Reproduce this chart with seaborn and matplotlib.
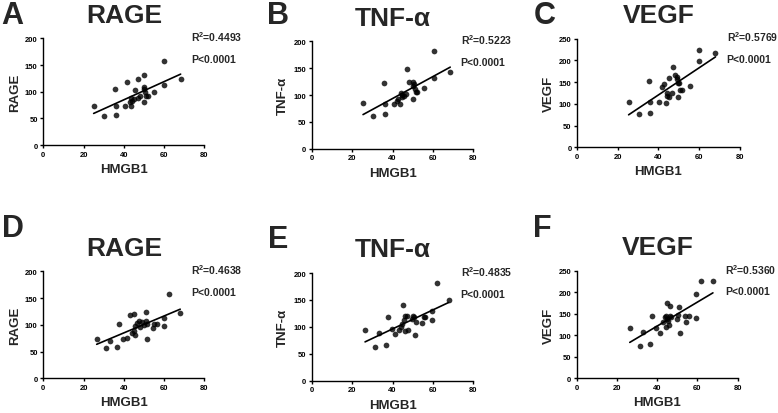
import numpy as np
import pandas as pd
import matplotlib
matplotlib.use("Agg")
import matplotlib.pyplot as plt
import seaborn as sns

# Values
hmgb1_a = [25.0, 30.3, 35.7, 36.2, 36.2, 40.5, 41.8, 43.4, 43.6, 43.9, 43.1, 44.8, 45.4, 47.1,
           46.9, 47.8, 49.8, 49.8, 50.1, 49.8, 50.7, 51.1, 52.2, 55.2, 60.0, 60.0, 68.2]
rage_a = [73.8, 54.4, 106, 73.8, 56, 73.8, 118, 73.8, 89, 83, 81, 86, 104, 124,
          89, 92.5, 131, 108, 105, 80, 99, 92.5, 92.5, 99, 158, 113, 124]

hmgb1_b = [25.4, 30.5, 35.9, 36.4, 36.4, 40.9, 42.0, 42.8, 43.7, 44.0, 44.6, 44.8, 45.6, 46.6,
           47.3, 48.3, 49.9, 50.2, 49.9, 50.8, 51.1, 51.4, 52.2, 55.7, 60.3, 60.3, 68.5]
tnf_b = [84.8, 61.3, 122, 84.2, 64.4, 84.2, 89, 92, 83, 103, 96.6, 100, 98.5, 101.5,
         149, 125, 124, 117, 92, 120, 111, 106.5, 106, 114, 182, 131, 143]

hmgb1_c = [25.3, 30.3, 35.5, 36.0, 36.0, 40.5, 41.8, 42.9, 45.4, 43.8, 44.1, 44.4, 45.0, 47.0,
           46.6, 48.2, 49.0, 49.3, 49.8, 50.3, 50.7, 51.5, 49.7, 55.3, 60.2, 60.2, 68.1]
vegf_c = [105, 76, 152, 104, 80, 104, 138, 146, 159, 103, 124, 119, 116, 184,
          125, 167, 162, 157, 149, 147, 132, 132, 115, 140, 225, 198, 216]

hmgb1_d = [26.5, 31.2, 33.2, 36.5, 37.6, 39.8, 41.5, 43.1, 45.1, 43.9, 44.8, 45.6, 46.4, 47.3, 45.3,
           47.8, 48.9, 49.8, 51.1, 51.1, 51.4, 51.7, 54.4, 55.0, 56.4, 59.7, 59.7, 62.2, 68.0]
rage_d = [73.8, 57, 69, 58, 102, 74, 75.6, 119, 120.6, 84, 89, 97, 103, 107, 80,
          95.6, 105, 99, 124, 107, 102, 74, 94, 102, 102, 112, 97, 158, 122.5]

hmgb1_e = [26.4, 31.4, 33.3, 36.6, 37.5, 39.9, 41.3, 45.0, 43.2, 44.0, 44.6, 45.4, 46.2, 45.9,
           47.0, 47.5, 49.5, 50.3, 50.8, 51.2, 51.5, 54.5, 55.3, 56.1, 59.4, 59.4, 61.9, 67.7]
tnf_e = [94, 63, 88, 66, 117.6, 96, 86.7, 141, 94, 99, 105, 112.7, 120.7, 93,
         120.7, 94, 114.5, 120.7, 117.6, 84.8, 110, 106.5, 117.6, 117.6, 130, 112.7, 180.8, 149.8]

hmgb1_f = [26.3, 31.3, 32.9, 36.3, 37.4, 39.6, 41.2, 45.0, 46.5, 42.9, 43.7, 44.5, 45.0, 44.2, 45.9,
           46.2, 47.0, 45.4, 49.8, 50.3, 50.8, 51.2, 53.6, 54.5, 55.8, 59.4, 59.4, 61.9, 67.7]
vegf_f = [117, 76, 107, 80, 144, 117, 105, 175, 168, 130, 142, 146, 138, 120, 123,
          146, 142, 134, 138, 148, 165, 105, 146, 130, 146, 140.5, 196, 226, 227]

letters = ["A", "B", "C", "D", "E", "F"]
titles = ["RAGE", "TNF-α", "VEGF", "RAGE", "TNF-α", "VEGF"]
r2_values = ["0.4493", "0.5223", "0.5769", "0.4638", "0.4835", "0.5360"]
p_label = "P<0.0001"
y_max = [200, 200, 250, 200, 200, 250]

xs = [hmgb1_a, hmgb1_b, hmgb1_c, hmgb1_d, hmgb1_e, hmgb1_f]
ys = [rage_a, tnf_b, vegf_c, rage_d, tnf_e, vegf_f]

sns.set_style("ticks")
plt.rcParams['font.family'] = ['Liberation Sans', 'DejaVu Sans']
plt.rcParams['font.weight'] = 'bold'
plt.rcParams['mathtext.fontset'] = 'custom'
plt.rcParams['mathtext.rm'] = 'Liberation Sans:bold'
plt.rcParams['mathtext.bf'] = 'Liberation Sans:bold'

fig = plt.figure(figsize=(7.78, 4.14), dpi=100)

# axes boxes (left, bottom, width, height) in figure fractions
boxes = [
    (0.0557, 0.647, 0.207, 0.258),
    (0.4006, 0.638, 0.208, 0.260),
    (0.7420, 0.642, 0.2087, 0.262),
    (0.0557, 0.084, 0.207, 0.258),
    (0.4006, 0.078, 0.208, 0.260),
    (0.7416, 0.084, 0.2065, 0.259),
]
letter_pos = [(0.001, 0.942), (0.343, 0.942), (0.686, 0.942),
              (0.003, 0.428), (0.344, 0.401), (0.685, 0.428)]

for i in range(6):
    ax = fig.add_axes(boxes[i])
    df = pd.DataFrame({"HMGB1": xs[i], "val": ys[i]})
    sns.regplot(data=df, x="HMGB1", y="val", ax=ax, ci=None, color="black",
                scatter_kws={"s": 17, "linewidths": 0},
                line_kws={"linewidth": 1.2})
    ax.set_xlim(0, 80)
    ax.set_ylim(0, y_max[i])
    ax.set_xticks([0, 20, 40, 60, 80])
    ax.set_yticks(np.arange(0, y_max[i] + 1, 50))
    ax.tick_params(labelsize=5.5, length=2.5, width=1, pad=1.5, colors="black")
    for lab in ax.get_xticklabels() + ax.get_yticklabels():
        lab.set_fontweight("bold")
    sns.despine(ax=ax)
    for s in ["left", "bottom"]:
        ax.spines[s].set_linewidth(1.0)
        ax.spines[s].set_color("black")
    ax.set_xlabel("HMGB1", fontsize=9.5, fontweight="bold", labelpad=4)
    ax.set_ylabel(titles[i], fontsize=9.5, fontweight="bold", labelpad=3)
    ax.set_title(titles[i], fontsize=19, fontweight="bold", pad=12)
    ax.text(0.92, 1.02, r"R$^{2}$=" + r2_values[i], transform=ax.transAxes, fontsize=7.5,
            fontweight="bold", va="center", ha="left", clip_on=False)
    ax.text(0.92, 0.81, p_label, transform=ax.transAxes, fontsize=7.5,
            fontweight="bold", va="center", ha="left", clip_on=False)
    fig.text(letter_pos[i][0], letter_pos[i][1], letters[i], fontsize=22,
             fontweight="bold", ha="left", va="baseline")

fig.savefig("out.png", dpi=100, facecolor="white")
